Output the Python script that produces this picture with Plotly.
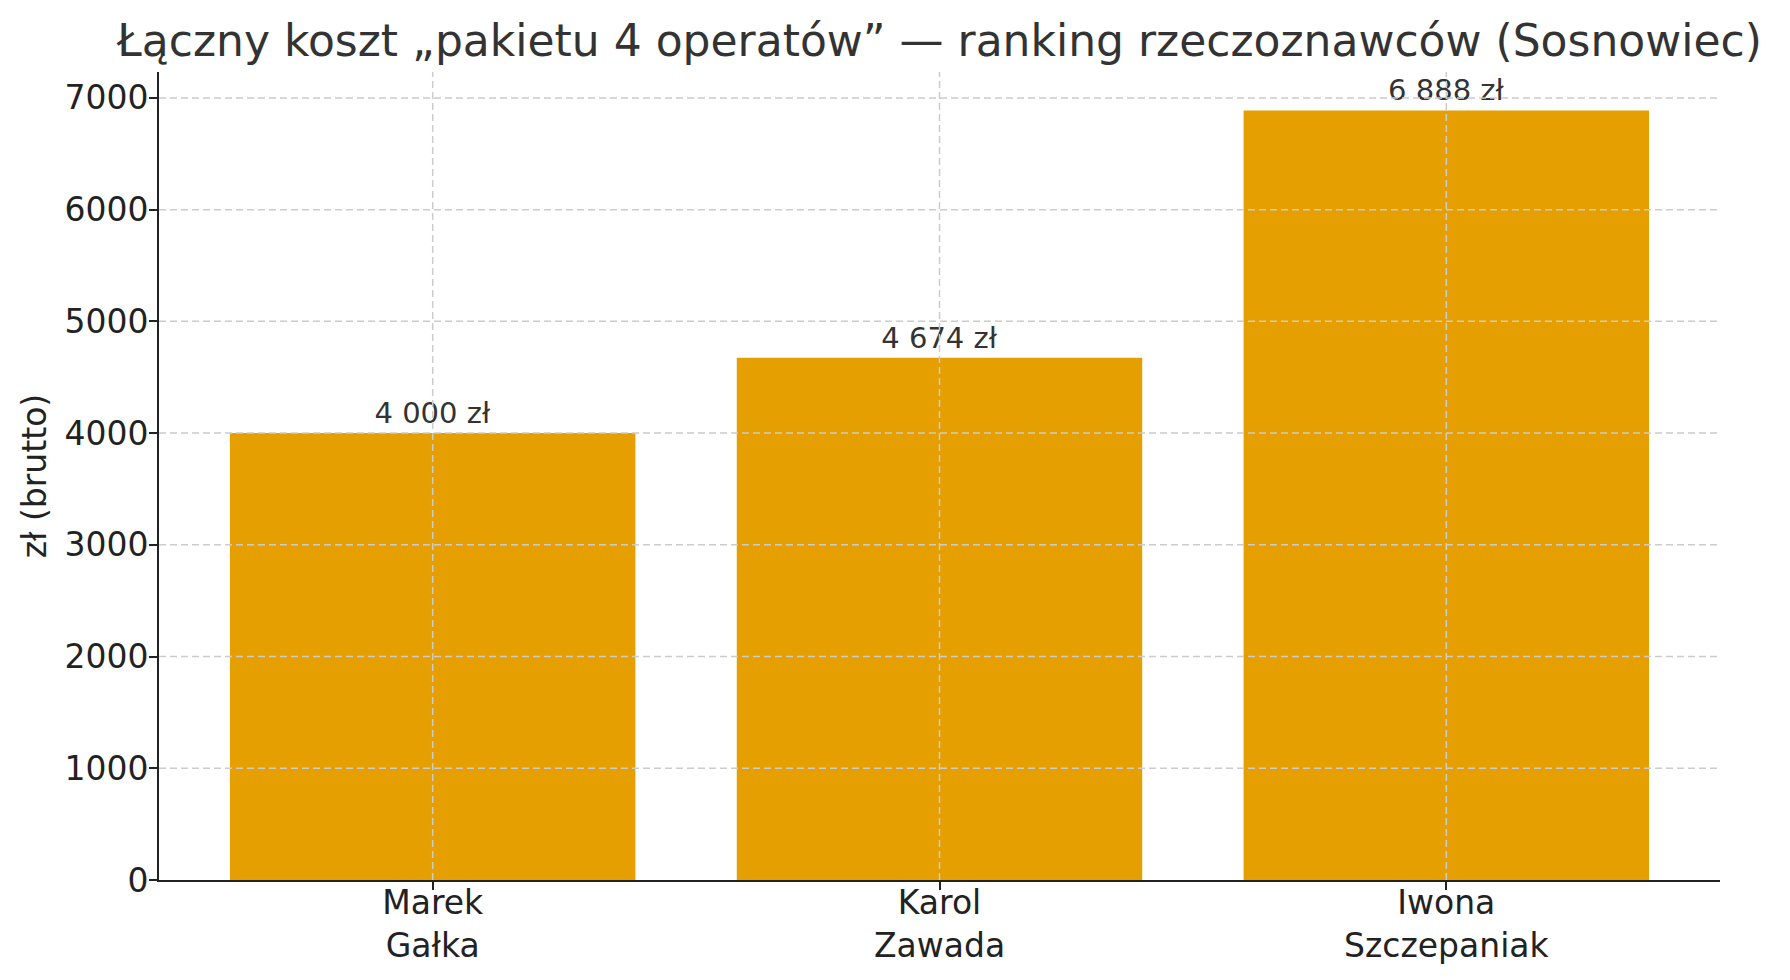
import plotly.graph_objects as go

# data
appraisers = ["Marek<br>Gałka", "Karol<br>Zawada", "Iwona<br>Szczepaniak"]
total_cost = [4000, 4674, 6888]
y_ticks = [0, 1000, 2000, 3000, 4000, 5000, 6000, 7000]

bar_labels = [f"{v:,}".replace(",", " ") + " zł" for v in total_cost]

FONT = "DejaVu Sans"
GRID = dict(color="#cccccc", width=1.5, dash="7px,4px")

fig = go.Figure()

fig.add_trace(
    go.Bar(
        x=appraisers,
        y=total_cost,
        width=0.8,
        marker=dict(color="#E69F00", line=dict(width=0)),
        text=bar_labels,
        textposition="outside",
        textfont=dict(family=FONT, size=29, color="#333333"),
        cliponaxis=False,
        showlegend=False,
    )
)

# grid lines drawn on top of the bars, like in the reference
for t in y_ticks[1:]:
    fig.add_hline(y=t, line=GRID, layer="above")
for name in appraisers:
    fig.add_vline(x=name, line=GRID, layer="above")

# page body has an 8px margin, so the figure is a bit smaller than the window
fig.update_layout(
    width=1774,
    height=964,
    paper_bgcolor="white",
    plot_bgcolor="white",
    margin=dict(l=151, r=62, t=64, b=92, autoexpand=False),
    font=dict(family=FONT, color="#222222"),
    title=dict(
        text="Łączny koszt „pakietu 4 operatów” — ranking rzeczoznawców (Sosnowiec)",
        x=0.5,
        xref="paper",
        xanchor="center",
        y=0.966,
        yref="container",
        yanchor="middle",
        font=dict(family=FONT, size=44, color="#333333"),
    ),
    bargap=0.2,
)

fig.update_xaxes(
    range=[-0.54, 2.54],
    automargin=False,
    showgrid=False,
    showline=True,
    linecolor="#222222",
    linewidth=2,
    ticks="outside",
    ticklen=8,
    tickwidth=2,
    tickcolor="#222222",
    ticklabelstandoff=-16,
    tickfont=dict(family=FONT, size=33, color="#222222"),
    zeroline=False,
)

fig.update_yaxes(
    range=[0, 7232],
    automargin=False,
    tickvals=y_ticks,
    showgrid=False,
    showline=True,
    linecolor="#222222",
    linewidth=2,
    ticks="outside",
    ticklen=8,
    tickwidth=2,
    tickcolor="#222222",
    ticklabelstandoff=-6,
    tickfont=dict(family=FONT, size=33, color="#222222"),
    title=dict(text="zł (brutto)", standoff=8, font=dict(family=FONT, size=33, color="#222222")),
    zeroline=False,
)

fig.write_html("out.html")
